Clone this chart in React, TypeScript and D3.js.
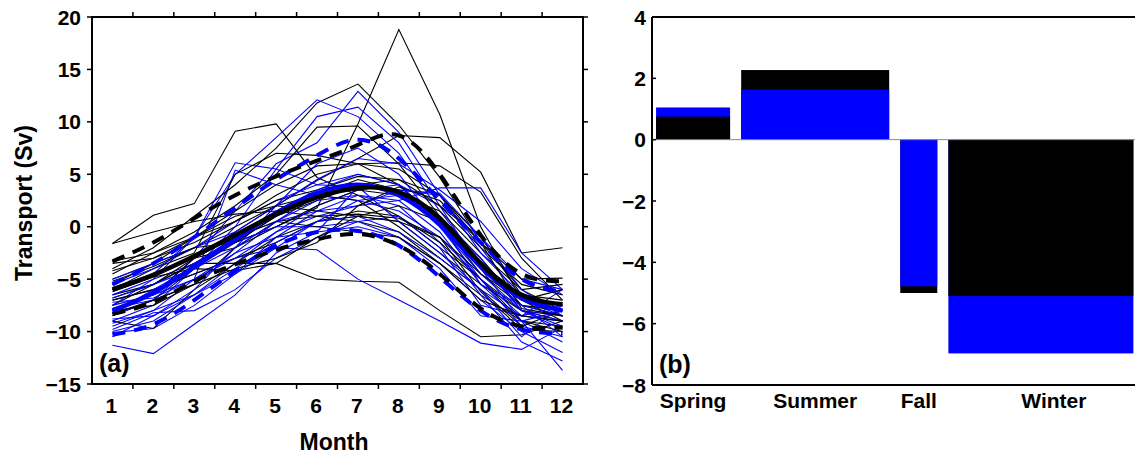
import React from 'react';
import * as d3 from 'd3';

const months = [1, 2, 3, 4, 5, 6, 7, 8, 9, 10, 11, 12];
const yTicksA = [20, 15, 10, 5, 0, -5, -10, -15];

const blackThin: number[][] = [
  [-6.5, -5.5, -3.5, -1.5, 0.0, 1.8, 9.8, 18.8, 10.7, 0.0, -7.0, -9.0],
  [-4.0, -2.0, 1.0, 4.0, 7.5, 11.8, 13.6, 9.7, 4.7, -1.5, -6.0, -8.0],
  [-1.6, 1.1, 2.2, 9.1, 9.8, 4.7, 3.0, 1.0, -2.0, -5.0, -8.0, -9.0],
  [-5.0, -3.5, -2.0, 0.0, 2.0, 4.4, 6.5, 8.7, 8.5, 5.2, -2.5, -2.0],
  [-5.5, -3.5, -1.0, 1.5, 4.0, 5.8, 6.0, 6.1, 5.8, 3.3, -3.0, -7.0],
  [-7.5, -5.5, -3.5, -3.5, -3.5, -5.0, -5.2, -5.3, -8.0, -10.5, -10.3, -9.0],
  [-1.6, -0.5, 0.5, 1.2, 1.5, 1.0, 0.5, -0.5, -3.5, -6.5, -9.0, -9.5],
  [-3.3, -2.5, -0.5, 2.0, 5.0, 9.5, 9.6, 6.0, 1.0, -3.0, -7.5, -8.5],
  [-6.0, -4.0, -2.5, 5.0, 7.0, 6.8, 6.0, 4.0, 0.5, -4.5, -7.5, -8.0],
  [-8.5, -7.0, -4.0, -1.5, 1.0, 3.0, 4.5, 3.5, 0.0, -4.0, -7.0, -7.5],
  [-7.0, -6.0, -4.5, -3.0, -1.5, 0.5, 1.0, 0.5, -2.5, -5.5, -8.0, -8.5],
  [-9.0, -9.7, -6.0, -3.5, -1.0, 0.5, 1.5, 1.0, -1.5, -5.0, -9.0, -10.0],
  [-5.8, -4.5, -3.0, -2.0, 0.0, 2.0, 3.5, 3.0, 1.5, -2.5, -6.0, -5.5],
  [-4.5, -2.5, -1.0, 0.5, 2.5, 3.5, 4.8, 4.5, 2.0, -2.0, -5.5, -6.5],
  [-7.8, -6.5, -3.0, -0.5, 2.0, 3.0, 2.5, 0.0, -3.0, -6.0, -9.5, -8.0],
  [-6.2, -4.8, -4.0, -4.2, -3.5, -1.0, 1.0, 2.0, 0.5, -3.5, -6.5, -7.0],
  [-8.0, -7.5, -5.5, -2.0, 0.5, 1.0, 1.2, 0.8, -1.0, -6.2, -9.8, -10.0],
  [-3.5, -3.0, -1.5, 0.5, 3.0, 5.0, 6.0, 5.5, 3.0, -1.5, -5.0, -4.9],
  [-5.2, -3.8, -2.0, -1.5, 1.0, 2.5, 4.0, 4.5, 3.0, -1.0, -6.5, -7.5],
  [-6.8, -5.5, -3.0, -1.0, 0.5, 0.0, -0.5, -1.0, -3.5, -7.0, -8.5, -9.0],
  [-8.3, -7.0, -5.5, -4.0, -3.0, -1.5, 2.0, 3.8, 2.5, -1.5, -7.8, -8.5],
  [-4.2, -3.0, -1.0, 1.0, 2.0, 1.5, 1.0, 0.5, -1.0, -4.5, -7.0, -6.0],
];

const blueThin: number[][] = [
  [-7.0, -6.0, -4.5, -3.0, -2.0, -2.2, -5.0, -7.0, -9.0, -11.1, -11.7, -9.6],
  [-11.3, -12.1, -9.3, -6.5, -2.5, -0.5, 0.0, -1.0, -3.5, -7.0, -10.0, -12.0],
  [-8.0, -6.5, -3.0, 1.5, 6.0, 8.0, 12.9, 9.0, 3.0, -2.0, -7.0, -8.5],
  [-7.5, -5.0, -1.0, 5.0, 8.5, 12.1, 10.5, 7.0, 1.5, -3.5, -8.0, -9.0],
  [-9.0, -7.5, -4.0, 0.0, 5.5, 10.5, 11.4, 8.0, 2.0, -4.0, -9.0, -11.0],
  [-6.0, -4.5, -1.0, 6.1, 5.5, 4.0, 5.0, 4.0, 2.0, -1.0, -5.0, -6.0],
  [-9.5, -8.0, -5.0, 5.4, 4.0, 3.0, 2.5, 1.5, -1.0, -5.0, -9.5, -10.5],
  [-10.1, -9.7, -7.5, -4.5, -1.0, 1.5, 3.0, 2.0, -1.5, -6.5, -11.0, -12.8],
  [-10.5, -8.5, -6.5, -3.5, -0.5, 2.0, 3.5, 4.0, 0.5, -5.5, -9.0, -13.7],
  [-8.5, -7.0, -5.5, -2.5, 0.5, 3.0, 4.0, 3.5, 1.0, -4.0, -7.5, -8.5],
  [-5.5, -4.0, -2.0, 0.5, 2.5, 4.0, 3.8, 0.5, -2.5, -6.0, -8.5, -6.0],
  [-7.2, -6.8, -5.0, -3.0, -0.5, 1.0, 2.0, 2.5, 3.7, 3.7, -2.5, -6.0],
  [-9.8, -8.2, -8.0, -6.0, -3.0, -1.0, 0.5, 1.0, -2.0, -7.5, -8.5, -7.5],
  [-6.5, -5.0, -3.5, -1.0, 1.5, 3.5, 5.0, 4.0, 0.0, -4.5, -8.0, -9.5],
  [-8.8, -8.5, -6.0, -2.0, 2.0, 6.0, 7.5, 5.0, 0.0, -5.0, -8.5, -9.0],
  [-7.8, -7.0, -3.5, -1.5, 0.0, 0.0, 0.5, -1.0, -4.0, -8.5, -9.0, -8.0],
  [-10.0, -9.0, -6.5, -4.0, -1.5, 0.5, 1.0, -0.5, -3.0, -6.0, -10.5, -7.5],
  [-5.0, -3.5, -2.0, -0.5, 2.0, 4.5, 6.5, 6.0, 3.5, 0.5, -4.0, -6.5],
  [-8.2, -6.0, -3.8, -1.0, 0.5, 1.5, 2.0, 3.5, 3.0, -2.5, -6.5, -8.0],
  [-9.2, -8.0, -6.5, -4.5, -2.0, 0.5, 2.5, 3.0, 1.0, -3.0, -8.0, -9.8],
  [-6.8, -5.5, -4.0, -2.0, 0.5, 2.5, 3.0, 2.5, -0.5, -5.5, -7.5, -10.5],
  [-7.5, -6.5, -5.0, -2.5, -1.0, -0.5, 3.8, 3.5, 3.2, -1.0, -6.0, -8.5],
];

const blackMean = [-6.0, -4.6, -2.8, -0.8, 1.2, 2.8, 3.7, 3.3, 0.8, -3.5, -6.5, -7.4];
const blackUpper = [-3.3, -1.5, 0.8, 3.0, 4.8, 6.3, 7.8, 8.7, 5.0, -0.8, -4.5, -5.2];
const blackLower = [-8.3, -7.2, -5.2, -3.6, -2.2, -1.2, -0.7, -1.8, -4.5, -7.8, -9.5, -9.6];
const blueMean = [-8.0, -6.3, -3.8, -1.2, 1.3, 3.2, 4.0, 3.0, 0.2, -3.8, -6.8, -8.0];
const blueUpper = [-5.5, -3.5, -1.0, 1.8, 4.5, 6.8, 8.3, 6.5, 2.5, -1.5, -5.0, -6.2];
const blueLower = [-10.3, -9.3, -7.0, -4.2, -1.8, -0.5, -0.4, -1.8, -4.8, -8.0, -9.8, -10.2];

const seasons = ['Spring', 'Summer', 'Fall', 'Winter'];
const seasonMonths = [2, 4, 1, 5];
const seasonBlack = [0.75, 2.27, -5.0, -5.1];
const seasonBlue = [1.05, 1.63, -4.78, -6.97];
const yTicksB = [4, 2, 0, -2, -4, -6, -8];

const FONT = '"Liberation Sans", Arial, Helvetica, sans-serif';
const BLUE = '#0000ff';
const fmt = (v: number) => (v < 0 ? '\u2212' + Math.abs(v) : String(v));

export default function App() {
  // Panel (a)
  const aL = 92, aR = 583, aT = 17, aB = 384;
  const x = d3.scaleLinear().domain([0.5, 12.5]).range([aL, aR]);
  const y = d3.scaleLinear().domain([-15, 20]).range([aB, aT]);
  const thin = d3.line<number>().x((_, i) => x(months[i])).y((d) => y(d));
  const smooth = d3
    .line<number>()
    .x((_, i) => x(months[i]))
    .y((d) => y(d))
    .curve(d3.curveNatural);

  const order: { d: number[]; c: string }[] = [];
  const n = Math.max(blackThin.length, blueThin.length);
  for (let i = 0; i < n; i++) {
    if (i < blackThin.length) order.push({ d: blackThin[i], c: '#000' });
    if (i < blueThin.length) order.push({ d: blueThin[i], c: BLUE });
  }
  const halfTicks = d3.range(1.5, 12, 1);

  // Panel (b)
  const bL = 652, bT = 17, bB = 385, bR = 1140;
  const yB = d3.scaleLinear().domain([-8, 4]).range([bB, bT]);
  const xB = d3.scaleLinear().domain([0, 13]).range([bL, bL + 13 * 37]);
  const gap = 0.3;
  const starts: number[] = [];
  let s = 0.11;
  seasonMonths.forEach((m) => {
    starts.push(s);
    s += m + gap;
  });

  return (
    <svg
      width={1135}
      height={454}
      style={{ position: 'absolute', left: 0, top: 0, background: '#fff' }}
      fontFamily={FONT}
      fontWeight="bold"
    >
      {/* ---------- Panel (a) ---------- */}
      <defs>
        <clipPath id="clipA">
          <rect x={aL} y={aT} width={aR - aL} height={aB - aT} />
        </clipPath>
      </defs>
      <g clipPath="url(#clipA)">
        {order.map((o, i) => (
          <path key={i} d={thin(o.d) || ''} fill="none" stroke={o.c} strokeWidth={1.1} />
        ))}
        <path d={smooth(blueLower) || ''} fill="none" stroke={BLUE} strokeWidth={4} strokeDasharray="13 9" />
        <path d={smooth(blueUpper) || ''} fill="none" stroke={BLUE} strokeWidth={4} strokeDasharray="13 9" />
        <path d={smooth(blackLower) || ''} fill="none" stroke="#000" strokeWidth={4} strokeDasharray="13 9" />
        <path d={smooth(blackUpper) || ''} fill="none" stroke="#000" strokeWidth={4} strokeDasharray="13 9" />
        <path d={smooth(blueMean) || ''} fill="none" stroke={BLUE} strokeWidth={4.5} />
        <path d={smooth(blackMean) || ''} fill="none" stroke="#000" strokeWidth={4.5} />
      </g>
      <rect x={aL} y={aT} width={aR - aL} height={aB - aT} fill="none" stroke="#000" strokeWidth={2} />
      {yTicksA.map((t) => (
        <g key={t}>
          <line x1={aL - 5} x2={aL} y1={y(t)} y2={y(t)} stroke="#000" strokeWidth={1.5} />
          <line x1={aR} x2={aR + 5} y1={y(t)} y2={y(t)} stroke="#000" strokeWidth={1.5} />
          <text x={aL - 11} y={y(t)} dy="0.36em" textAnchor="end" fontSize={21}>
            {fmt(t)}
          </text>
        </g>
      ))}
      {halfTicks.map((t) => (
        <g key={t}>
          <line x1={x(t)} x2={x(t)} y1={aT - 5} y2={aT} stroke="#000" strokeWidth={1.5} />
          <line x1={x(t)} x2={x(t)} y1={aB} y2={aB + 5} stroke="#000" strokeWidth={1.5} />
        </g>
      ))}
      {months.map((m) => (
        <text key={m} x={x(m) - 1} y={413} textAnchor="middle" fontSize={21}>
          {m}
        </text>
      ))}
      <text x={334} y={450} textAnchor="middle" fontSize={23}>
        Month
      </text>
      <text transform="translate(32,203) rotate(-90)" textAnchor="middle" fontSize={23}>
        Transport (Sv)
      </text>
      <text x={99} y={372} fontSize={25}>
        (a)
      </text>

      {/* ---------- Panel (b) ---------- */}
      {seasons.map((name, i) => {
        const bars = [
          { v: seasonBlack[i], c: '#000' },
          { v: seasonBlue[i], c: BLUE },
        ].sort((a, b) => Math.abs(b.v) - Math.abs(a.v));
        const x0 = xB(starts[i]);
        const x1 = xB(starts[i] + seasonMonths[i]);
        return (
          <g key={name}>
            {bars.map((b, j) => (
              <rect
                key={j}
                x={x0}
                width={x1 - x0}
                y={Math.min(yB(0), yB(b.v))}
                height={Math.abs(yB(b.v) - yB(0))}
                fill={b.c}
              />
            ))}
            <text x={(x0 + x1) / 2 + (i === 3 ? 13 : 0)} y={408} textAnchor="middle" fontSize={21}>
              {name}
            </text>
          </g>
        );
      })}
      <line x1={bL} x2={bR} y1={yB(0)} y2={yB(0)} stroke="#888" strokeWidth={1} />
      <line x1={bL} x2={bR} y1={bT} y2={bT} stroke="#000" strokeWidth={2} />
      <line x1={bL} x2={bR} y1={bB} y2={bB} stroke="#000" strokeWidth={2} />
      <line x1={bL} x2={bL} y1={bT} y2={bB} stroke="#000" strokeWidth={2} />
      {yTicksB.map((t) => (
        <g key={t}>
          <line x1={bL} x2={bL + 4} y1={yB(t)} y2={yB(t)} stroke="#000" strokeWidth={1.5} />
          <text x={bL - 6} y={yB(t)} dy="0.36em" textAnchor="end" fontSize={21}>
            {fmt(t)}
          </text>
        </g>
      ))}
      <text x={659} y={373} fontSize={25}>
        (b)
      </text>
    </svg>
  );
}
